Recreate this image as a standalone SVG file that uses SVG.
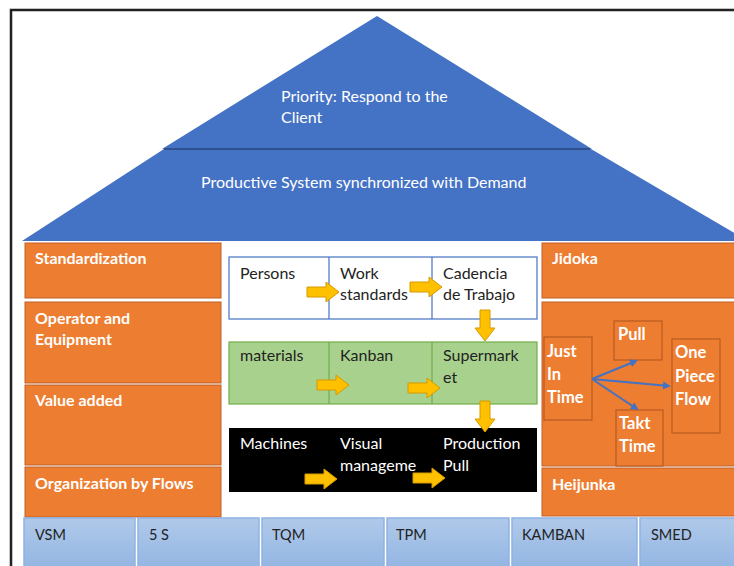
<svg xmlns="http://www.w3.org/2000/svg" width="734" height="566" viewBox="0 0 734 566">
  <style>
    .t { font-family: Lato, "Liberation Sans", sans-serif; font-size: 16px; }
    .s { font-size: 14.5px; }
    .b { font-size: 16.5px; }
    .w { fill: #ffffff; }
    .wb { fill: #ffffff; font-weight: bold; }
    .k { fill: #222222; }
    .orange { fill: #ed7d31; stroke: #c0602a; stroke-width: 1; }
    .inner { fill: #ed7d31; stroke: #b85a22; stroke-width: 1.2; }
    .tool { fill: url(#toolFill); stroke: #8db3e2; stroke-width: 1.5; }
    .gold { fill: #ffc000; stroke: #d49a00; stroke-width: 1; }
    .jit { stroke: #4472c4; stroke-width: 2; fill: none; marker-end: url(#blueHead); }
  </style>
  <defs>
    <linearGradient id="toolFill" x1="0" y1="0" x2="0" y2="1">
      <stop offset="0" stop-color="#b0c9ea"/>
      <stop offset="1" stop-color="#92b5e2"/>
    </linearGradient>
    <path id="arrowRight" d="M0,-5 H19 V-10 L32,0 L19,10 V5 H0 Z"/>
    <path id="arrowDown" d="M-5,0 V18 H-10 L0,31 L10,18 H5 V0 Z"/>
    <marker id="blueHead" markerWidth="8" markerHeight="8" refX="6" refY="4" orient="auto" markerUnits="userSpaceOnUse">
      <path d="M0,0 L8,4 L0,8 Z" fill="#4472c4"/>
    </marker>
  </defs>

  <rect width="734" height="566" fill="#ffffff"/>

  <!-- outer frame -->
  <path d="M11,566 V10 H734" fill="none" stroke="#8a8a8a" stroke-width="3"/>
  <path d="M11,566 V10 H734" fill="none" stroke="#000000" stroke-width="1.5"/>

  <!-- roof -->
  <g id="roof-demand">
    <path d="M164,149 L591,149 L748,241 L22,241 Z" fill="#4472c4"/>
    <text class="t w" x="201" y="188">Productive System synchronized with Demand</text>
  </g>
  <g id="roof-priority">
    <path d="M377,16 L592,149 L162,149 Z" fill="#4472c4"/>
    <line x1="164" y1="149" x2="590" y2="149" stroke="#2f528f" stroke-width="2"/>
    <text class="t w" x="281" y="102">Priority: Respond to the</text>
    <text class="t w" x="281" y="123">Client</text>
  </g>

  <!-- left pillar -->
  <g id="standardization">
    <rect class="orange" x="25" y="243" width="196" height="55"/>
    <text class="t wb" x="35" y="264">Standardization</text>
  </g>
  <g id="operator-equipment">
    <rect class="orange" x="25" y="302" width="196" height="81"/>
    <text class="t wb" x="35" y="324">Operator and</text>
    <text class="t wb" x="35" y="345">Equipment</text>
  </g>
  <g id="value-added">
    <rect class="orange" x="25" y="385" width="196" height="80"/>
    <text class="t wb" x="35" y="406">Value added</text>
  </g>
  <g id="organization-flows">
    <rect class="orange" x="25" y="467" width="196" height="50"/>
    <text class="t wb" x="35" y="489">Organization by Flows</text>
  </g>

  <!-- centre: persons row -->
  <g id="persons-row">
    <rect x="229" y="257" width="308" height="62" fill="#ffffff" stroke="#4472c4" stroke-width="1.2"/>
    <line x1="329" y1="257" x2="329" y2="319" stroke="#4472c4" stroke-width="1.2"/>
    <line x1="432" y1="257" x2="432" y2="319" stroke="#4472c4" stroke-width="1.2"/>
    <text class="t k" x="240" y="279">Persons</text>
    <text class="t k" x="340" y="279">Work</text>
    <text class="t k" x="340" y="300">standards</text>
    <text class="t k" x="443" y="279">Cadencia</text>
    <text class="t k" x="443" y="300">de Trabajo</text>
  </g>

  <!-- centre: materials row -->
  <g id="materials-row">
    <rect x="229" y="342" width="308" height="62" fill="#a9d18e" stroke="#70ad47" stroke-width="1.2"/>
    <line x1="329" y1="342" x2="329" y2="404" stroke="#70ad47" stroke-width="1.2"/>
    <line x1="432" y1="342" x2="432" y2="404" stroke="#70ad47" stroke-width="1.2"/>
    <text class="t k" x="240" y="361">materials</text>
    <text class="t k" x="340" y="361">Kanban</text>
    <text class="t k" x="443" y="361">Supermark</text>
    <text class="t k" x="443" y="383">et</text>
  </g>

  <!-- centre: machines row -->
  <g id="machines-row">
    <rect x="229" y="428" width="308" height="64" fill="#000000"/>
    <text class="t w" x="240" y="449">Machines</text>
    <text class="t w" x="340" y="449">Visual</text>
    <text class="t w" x="340" y="471">manageme</text>
    <text class="t w" x="443" y="449">Production</text>
    <text class="t w" x="443" y="471">Pull</text>
  </g>

  <!-- right pillar -->
  <g id="jidoka">
    <rect class="orange" x="542" y="243" width="200" height="55"/>
    <text class="t wb" x="552" y="264">Jidoka</text>
  </g>
  <g id="jit-panel">
    <rect class="orange" x="542" y="302" width="200" height="164"/>
  </g>
  <g id="just-in-time">
    <rect class="inner" x="544" y="337" width="48" height="83"/>
    <text class="t b wb" x="547" y="357">Just</text>
    <text class="t b wb" x="547" y="380">In</text>
    <text class="t b wb" x="547" y="403">Time</text>
  </g>
  <g id="pull">
    <rect class="inner" x="614" y="321" width="48" height="39"/>
    <text class="t b wb" x="618" y="340">Pull</text>
  </g>
  <g id="one-piece-flow">
    <rect class="inner" x="672" y="339" width="48" height="94"/>
    <text class="t b wb" x="675" y="358">One</text>
    <text class="t b wb" x="675" y="382">Piece</text>
    <text class="t b wb" x="675" y="405">Flow</text>
  </g>
  <g id="takt-time">
    <rect class="inner" x="616" y="410" width="47" height="56"/>
    <text class="t b wb" x="619" y="429">Takt</text>
    <text class="t b wb" x="619" y="452">Time</text>
  </g>
  <g id="heijunka">
    <rect class="orange" x="542" y="468" width="200" height="48"/>
    <text class="t wb" x="552" y="490">Heijunka</text>
  </g>

  <!-- foundation tools -->
  <g id="tool-vsm">
    <rect class="tool" x="24" y="518" width="111" height="52"/>
    <text class="t s k" x="35" y="540">VSM</text>
  </g>
  <g id="tool-5s">
    <rect class="tool" x="138" y="518" width="121" height="52"/>
    <text class="t s k" x="149" y="540">5 S</text>
  </g>
  <g id="tool-tqm">
    <rect class="tool" x="262" y="518" width="122" height="52"/>
    <text class="t s k" x="272" y="540">TQM</text>
  </g>
  <g id="tool-tpm">
    <rect class="tool" x="387" y="518" width="122" height="52"/>
    <text class="t s k" x="396" y="540">TPM</text>
  </g>
  <g id="tool-kamban">
    <rect class="tool" x="512" y="518" width="125" height="52"/>
    <text class="t s k" x="522" y="540">KAMBAN</text>
  </g>
  <g id="tool-smed">
    <rect class="tool" x="640" y="518" width="110" height="52"/>
    <text class="t s k" x="651" y="540">SMED</text>
  </g>

  <!-- connectors -->
  <g id="connectors">
    <use href="#arrowRight" class="gold" x="307" y="292"/>
    <use href="#arrowRight" class="gold" x="410" y="287"/>
    <use href="#arrowDown" class="gold" x="485" y="310"/>
    <use href="#arrowRight" class="gold" x="317" y="385"/>
    <use href="#arrowRight" class="gold" x="408" y="388"/>
    <use href="#arrowDown" class="gold" x="485" y="401"/>
    <use href="#arrowRight" class="gold" x="305" y="479"/>
    <use href="#arrowRight" class="gold" x="413" y="478"/>
    <line class="jit" x1="592" y1="379" x2="636" y2="361"/>
    <line class="jit" x1="592" y1="379" x2="669" y2="386"/>
    <line class="jit" x1="592" y1="379" x2="637" y2="409"/>
  </g>
</svg>
